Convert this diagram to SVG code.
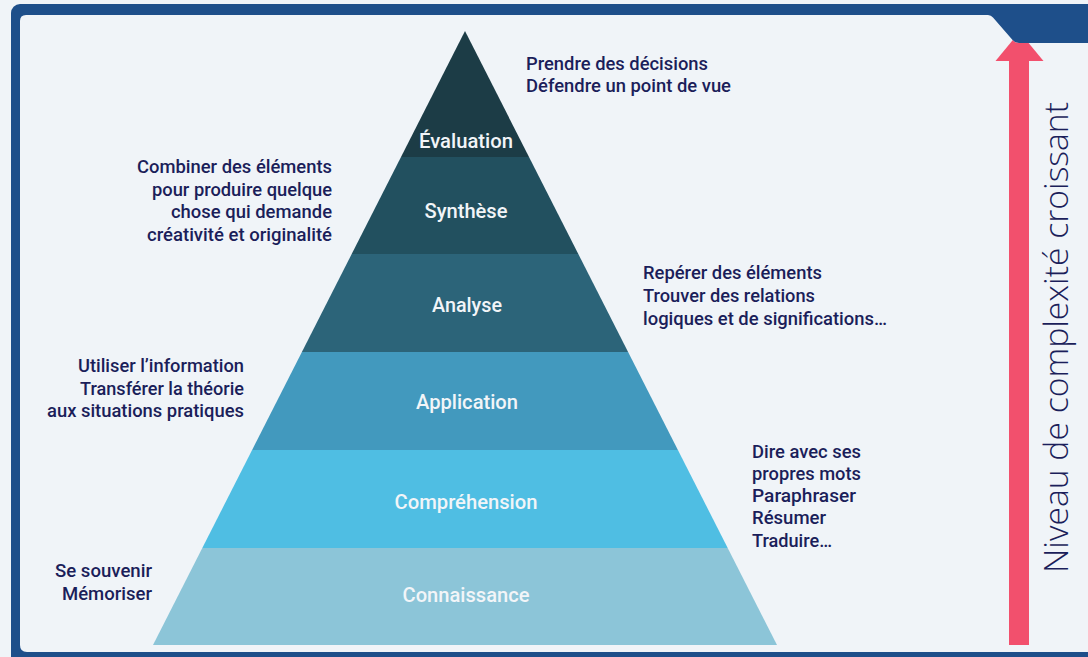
<svg xmlns="http://www.w3.org/2000/svg" width="1088" height="657" viewBox="0 0 1088 657">
<style>
.lbl{font-family:Roboto,"Liberation Sans",sans-serif;font-weight:500;font-size:20.5px;fill:#f2f5f8;text-anchor:middle}
.note{font-family:Roboto,"Liberation Sans",sans-serif;font-weight:500;font-size:19px;fill:#1b1e5a}
.r{text-anchor:end}
.axis{font-family:"Open Sans","Liberation Sans",sans-serif;font-weight:300;font-size:33px;fill:#1b1e5a}
</style>
<defs>
<path id="panel" d="M26,15 L988,15 Q991,15 993,17.5 L1013,40.5 Q1015,43 1019,43 L1088,43 L1088,652 L27,652 Q20,652 20,645 L20,21 Q20,15 26,15 Z"/>
<clipPath id="panelClip"><use href="#panel"/></clipPath>
</defs>
<rect width="1088" height="657" fill="#f0f4f8"/>
<g id="frame">
<rect x="11" y="4" width="1100" height="700" rx="9" fill="#1e4f8a"/>
<use href="#panel" fill="#f0f4f8"/>
</g>
<g id="complexity-arrow" clip-path="url(#panelClip)">
<rect x="1009" y="55" width="20" height="590" fill="#f2506d"/>
<polygon points="995.5,61 1043.5,61 1019.5,32" fill="#f2506d"/>
<text class="axis" transform="translate(1068,337.5) rotate(-90)" text-anchor="middle" textLength="471" lengthAdjust="spacingAndGlyphs">Niveau de complexité croissant</text>
</g>
<g id="pyramid">
<g id="connaissance">
<polygon points="202.3,548 727.7,548 777,645 153,645" fill="#8cc5d8"/>
<text class="lbl" x="466" y="602" textLength="127" lengthAdjust="spacingAndGlyphs">Connaissance</text>
</g>
<g id="comprehension">
<polygon points="252.1,450 677.9,450 727.7,548 202.3,548" fill="#4fbee3"/>
<text class="lbl" x="466" y="509" textLength="143" lengthAdjust="spacingAndGlyphs">Compréhension</text>
</g>
<g id="application">
<polygon points="301.9,352 628.1,352 677.9,450 252.1,450" fill="#4299be"/>
<text class="lbl" x="467" y="409" textLength="102" lengthAdjust="spacingAndGlyphs">Application</text>
</g>
<g id="analyse">
<polygon points="351.7,254 578.3,254 628.1,352 301.9,352" fill="#2c6479"/>
<text class="lbl" x="467" y="312" textLength="70" lengthAdjust="spacingAndGlyphs">Analyse</text>
</g>
<g id="synthese">
<polygon points="401,157 529,157 578.3,254 351.7,254" fill="#22505f"/>
<text class="lbl" x="466" y="218" textLength="83" lengthAdjust="spacingAndGlyphs">Synthèse</text>
</g>
<g id="evaluation">
<polygon points="465,31 529,157 401,157" fill="#1c3c46"/>
<text class="lbl" x="466" y="148" textLength="94" lengthAdjust="spacingAndGlyphs">Évaluation</text>
</g>
</g>
<g id="note-evaluation">
<text class="note" x="526" y="70" textLength="182" lengthAdjust="spacingAndGlyphs">Prendre des décisions</text>
<text class="note" x="526" y="92" textLength="205" lengthAdjust="spacingAndGlyphs">Défendre un point de vue</text>
</g>
<g id="note-synthese">
<text class="note r" x="332" y="172.5" textLength="195" lengthAdjust="spacingAndGlyphs">Combiner des éléments</text>
<text class="note r" x="332" y="195.5" textLength="180" lengthAdjust="spacingAndGlyphs">pour produire quelque</text>
<text class="note r" x="332" y="218" textLength="161" lengthAdjust="spacingAndGlyphs">chose qui demande</text>
<text class="note r" x="332" y="240.5" textLength="185" lengthAdjust="spacingAndGlyphs">créativité et originalité</text>
</g>
<g id="note-analyse">
<text class="note" x="643" y="279" textLength="179" lengthAdjust="spacingAndGlyphs">Repérer des éléments</text>
<text class="note" x="643" y="301.5" textLength="172" lengthAdjust="spacingAndGlyphs">Trouver des relations</text>
<text class="note" x="643" y="324.5" textLength="244" lengthAdjust="spacingAndGlyphs">logiques et de significations…</text>
</g>
<g id="note-application">
<text class="note r" x="244" y="372" textLength="166" lengthAdjust="spacingAndGlyphs">Utiliser l’information</text>
<text class="note r" x="244" y="394.5" textLength="164" lengthAdjust="spacingAndGlyphs">Transférer la théorie</text>
<text class="note r" x="244" y="416.5" textLength="197" lengthAdjust="spacingAndGlyphs">aux situations pratiques</text>
</g>
<g id="note-comprehension">
<text class="note" x="752" y="458" textLength="109" lengthAdjust="spacingAndGlyphs">Dire avec ses</text>
<text class="note" x="752" y="480" textLength="109" lengthAdjust="spacingAndGlyphs">propres mots</text>
<text class="note" x="752" y="502" textLength="104" lengthAdjust="spacingAndGlyphs">Paraphraser</text>
<text class="note" x="752" y="524" textLength="74" lengthAdjust="spacingAndGlyphs">Résumer</text>
<text class="note" x="752" y="546.5" textLength="80" lengthAdjust="spacingAndGlyphs">Traduire…</text>
</g>
<g id="note-connaissance">
<text class="note r" x="152" y="577" textLength="97" lengthAdjust="spacingAndGlyphs">Se souvenir</text>
<text class="note r" x="152" y="600" textLength="90" lengthAdjust="spacingAndGlyphs">Mémoriser</text>
</g>
<g id="connectors"/>
</svg>
